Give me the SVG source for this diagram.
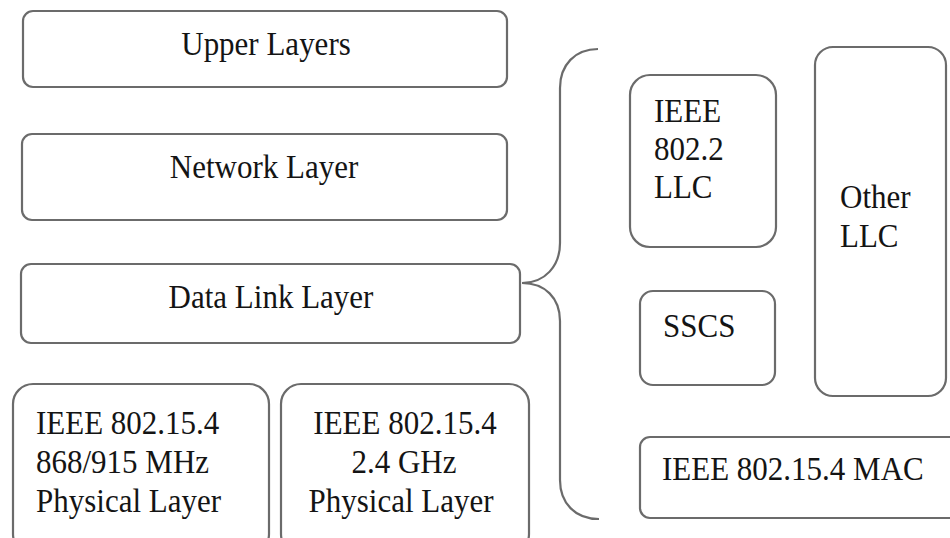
<svg xmlns="http://www.w3.org/2000/svg" width="950" height="538" viewBox="0 0 950 538">
  <style>
    .box { fill: #ffffff; stroke: #6b6b6b; stroke-width: 2.2; }
    .link { fill: none; stroke: #6b6b6b; stroke-width: 2.2; }
    text { font-family: "Liberation Serif", "Times New Roman", serif; font-size: 31px; fill: #141414; }
    .mid { text-anchor: middle; }
  </style>
  <rect width="950" height="538" fill="#ffffff"/>

  <!-- protocol stack, left (labels slightly stretched vertically) -->
  <g id="upper-layers">
    <rect class="box" x="23" y="11" width="484" height="76" rx="10"/>
    <text class="mid" transform="translate(266,55) scale(1,1.1)">Upper Layers</text>
  </g>
  <g id="network-layer">
    <rect class="box" x="22" y="134" width="485" height="86" rx="10"/>
    <text class="mid" transform="translate(264,178) scale(1,1.1)">Network Layer</text>
  </g>
  <g id="data-link-layer">
    <rect class="box" x="21" y="264" width="499" height="79" rx="10"/>
    <text class="mid" transform="translate(271,308) scale(1,1.1)">Data Link Layer</text>
  </g>
  <g id="phy-868">
    <rect class="box" x="13" y="384" width="256" height="170" rx="20"/>
    <text transform="translate(36,434) scale(1,1.1)">IEEE 802.15.4</text>
    <text transform="translate(36,473) scale(1,1.1)">868/915 MHz</text>
    <text transform="translate(36,512) scale(1,1.1)">Physical Layer</text>
  </g>
  <g id="phy-2g4">
    <rect class="box" x="281" y="384" width="248" height="170" rx="20"/>
    <text class="mid" transform="translate(405,434) scale(1,1.1)">IEEE 802.15.4</text>
    <text class="mid" transform="translate(404,473) scale(1,1.1)">2.4 GHz</text>
    <text class="mid" transform="translate(401,512) scale(1,1.1)">Physical Layer</text>
  </g>

  <!-- data link sublayers, right -->
  <g id="llc-8022">
    <rect class="box" x="630" y="75" width="146" height="172" rx="20"/>
    <text transform="translate(654,122) scale(1,1.1)">IEEE</text>
    <text transform="translate(654,160) scale(1,1.1)">802.2</text>
    <text transform="translate(654,198) scale(1,1.1)">LLC</text>
  </g>
  <g id="other-llc">
    <rect class="box" x="815" y="47" width="131" height="349" rx="18"/>
    <text transform="translate(840,208) scale(1,1.1)">Other</text>
    <text transform="translate(840,247) scale(1,1.1)">LLC</text>
  </g>
  <g id="sscs">
    <rect class="box" x="640" y="291" width="135" height="94" rx="13"/>
    <text transform="translate(663,337) scale(1,1.1)">SSCS</text>
  </g>
  <g id="mac">
    <rect class="box" x="640" y="437" width="330" height="81" rx="10"/>
    <text transform="translate(662,480) scale(1,1.1)">IEEE 802.15.4 MAC</text>
  </g>

  <!-- brace joining the data link layer to its sublayers -->
  <g id="connectors">
    <path class="link" d="M598,49 C575,49 560,65 560,88 L560,243 C560,266 545,283 522,283 C545,283 560,298 560,321 L560,480 C560,503 575,519 599,519"/>
  </g>
</svg>
